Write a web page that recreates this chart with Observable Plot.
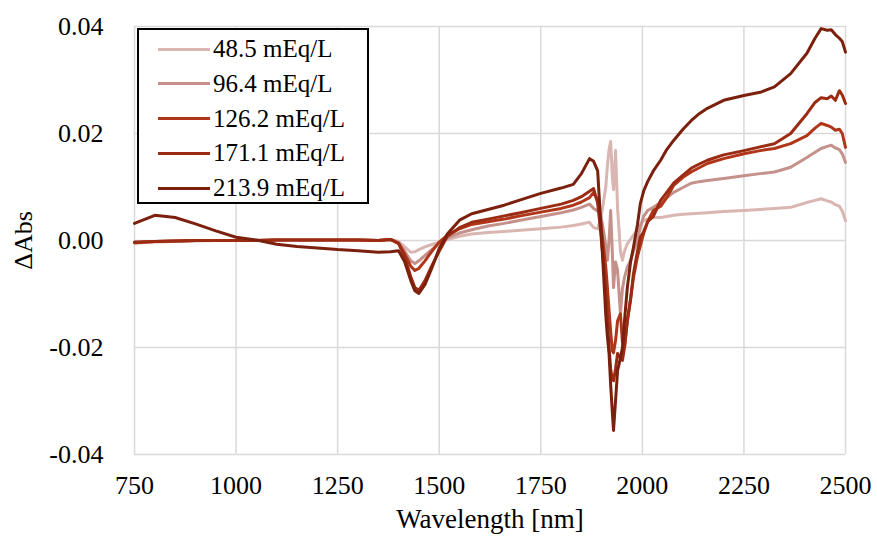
<!DOCTYPE html>
<html>
<head>
<meta charset="utf-8">
<script src="https://cdn.jsdelivr.net/npm/d3@7"></script>
<script src="https://cdn.jsdelivr.net/npm/@observablehq/plot@0.6"></script>
<style>
  html, body { margin: 0; padding: 0; background: #fff; }
  #wrap { position: relative; width: 877px; height: 538px; }
  #legend {
    position: absolute; left: 137px; top: 28px; width: 228px; height: 172px;
    border: 2px solid #000; background: #fff; box-sizing: content-box;
    font-family: "Times New Roman", "Liberation Serif", Tinos, "DejaVu Serif", serif; font-size: 25px; color: #000;
  }
  .row { position: absolute; left: 0; height: 34px; display: flex; align-items: center; white-space: nowrap; }
  .sw { width: 52px; height: 3px; margin-left: 19px; margin-right: 3px; }
  svg text { font-family: "Times New Roman", "Liberation Serif", Tinos, "DejaVu Serif", serif; }
</style>
</head>
<body>
<div id="wrap"><div id="legend"></div></div>
<script>
const seriesNames = ["48.5 mEq/L", "96.4 mEq/L", "126.2 mEq/L", "171.1 mEq/L", "213.9 mEq/L"];
const seriesColors = ["#d9b6b1", "#c4918b", "#b0361a", "#9b2b12", "#7b200d"];

const wavelength = [750, 800, 850, 900, 950, 1000, 1050, 1100, 1150, 1200, 1250, 1300, 1350, 1380, 1400, 1415, 1430, 1440, 1450, 1465, 1480, 1500, 1520, 1550, 1580, 1620, 1660, 1700, 1750, 1800, 1830, 1850, 1870, 1880, 1890, 1897, 1904, 1910, 1914, 1918, 1922, 1926, 1929, 1934, 1939, 1946, 1951, 1956, 1963, 1971, 1978, 1988, 1995, 2003, 2013, 2027, 2045, 2060, 2077, 2100, 2120, 2140, 2160, 2200, 2250, 2290, 2325, 2365, 2405, 2425, 2440, 2455, 2465, 2475, 2485, 2492, 2500];

const abs48_5 = [-0.0005, -0.0003, -0.0002, -0.0001, 0, 0, 0, 0.0001, 0.0001, 0.0001, 0.0001, 0.0001, 0, 0.0002, -0.0002, -0.0012, -0.0022, -0.0021, -0.0017, -0.0012, -0.0008, -0.0003, 0.0002, 0.0008, 0.0012, 0.0015, 0.0017, 0.0019, 0.0022, 0.0025, 0.0028, 0.0031, 0.0034, 0.0024, 0.0022, 0.004, 0.007, 0.01, 0.014, 0.017, 0.0185, 0.012, 0.0095, 0.0168, 0.006, -0.002, -0.0037, -0.002, -0.0006, 0.0002, 0.001, 0.002, 0.003, 0.0037, 0.004, 0.0043, 0.0043, 0.0045, 0.0047, 0.0049, 0.005, 0.0051, 0.0052, 0.0054, 0.0056, 0.0058, 0.006, 0.0062, 0.0071, 0.0075, 0.0078, 0.0074, 0.0072, 0.0067, 0.0064, 0.0055, 0.0037];

const abs96_4 = [-0.0004, -0.0002, -0.0001, 0, 0, 0, 0, 0.0001, 0.0001, 0.0001, 0.0001, 0.0001, 0, 0.0002, -0.0004, -0.002, -0.0038, -0.0043, -0.0038, -0.0028, -0.0018, -0.0005, 0.0005, 0.0014, 0.002, 0.0027, 0.0032, 0.0038, 0.0045, 0.0052, 0.0057, 0.0062, 0.0068, 0.006, 0.0055, 0.005, 0.002, -0.001, -0.0037, 0, 0.0056, -0.002, -0.0088, -0.004, -0.0056, -0.0137, -0.009, -0.0069, -0.005, -0.0037, -0.002, 0, 0.0025, 0.0045, 0.0056, 0.0062, 0.0071, 0.008, 0.009, 0.0099, 0.0107, 0.011, 0.0112, 0.0116, 0.0121, 0.0125, 0.0128, 0.0137, 0.0155, 0.0165, 0.0172, 0.0176, 0.0178, 0.0173, 0.017, 0.0162, 0.0146];

const abs126_2 = [-0.0004, -0.0002, -0.0001, 0, 0, 0, 0, 0.0001, 0.0001, 0.0001, 0.0001, 0.0001, 0, 0.0002, -0.0005, -0.0025, -0.0048, -0.0056, -0.0052, -0.0038, -0.0022, -0.0003, 0.001, 0.0022, 0.003, 0.0035, 0.004, 0.0046, 0.0053, 0.006, 0.0066, 0.0072, 0.008, 0.009, 0.0075, 0.0037, -0.001, -0.005, -0.0088, -0.013, -0.017, -0.0206, -0.021, -0.0187, -0.015, -0.0137, -0.019, -0.02, -0.015, -0.011, -0.007, -0.003, -0.001, 0.0013, 0.0035, 0.0056, 0.0064, 0.008, 0.0103, 0.0118, 0.0128, 0.0136, 0.0144, 0.0153, 0.0162, 0.0168, 0.0172, 0.0181, 0.0196, 0.021, 0.0219, 0.0215, 0.0212, 0.0206, 0.0208, 0.02, 0.0174];

const abs171_1 = [-0.0003, -0.0002, -0.0001, 0, 0, 0, 0, 0.0001, 0.0001, 0.0001, 0.0001, 0.0001, 0, 0.0002, -0.0006, -0.003, -0.0068, -0.0088, -0.0093, -0.0075, -0.005, -0.002, 0.0008, 0.0024, 0.0034, 0.004, 0.0046, 0.0052, 0.006, 0.0068, 0.0075, 0.0082, 0.0092, 0.0097, 0.007, 0.0019, -0.004, -0.0095, -0.015, -0.02, -0.024, -0.026, -0.0262, -0.024, -0.0211, -0.022, -0.0224, -0.02, -0.015, -0.011, -0.0062, -0.002, 0.0006, 0.0016, 0.0035, 0.0045, 0.0075, 0.009, 0.0107, 0.0122, 0.0135, 0.0143, 0.015, 0.016, 0.0168, 0.0175, 0.0181, 0.02, 0.0237, 0.0258, 0.0267, 0.0265, 0.027, 0.0262, 0.028, 0.0272, 0.0256];

const abs213_9 = [0.0032, 0.0047, 0.0043, 0.0031, 0.0018, 0.0006, 0.0001, -0.0007, -0.0011, -0.0014, -0.0017, -0.0019, -0.0022, -0.0021, -0.0019, -0.004, -0.0075, -0.0094, -0.0099, -0.0082, -0.0055, -0.0015, 0.0012, 0.0038, 0.005, 0.0058, 0.0066, 0.0076, 0.0088, 0.0098, 0.0105, 0.0125, 0.0153, 0.0148, 0.013, 0.004, -0.0056, -0.014, -0.018, -0.0211, -0.027, -0.032, -0.0355, -0.03, -0.0243, -0.022, -0.02, -0.015, -0.0088, -0.004, -0.0013, 0.003, 0.0069, 0.0092, 0.011, 0.013, 0.015, 0.017, 0.0187, 0.0208, 0.0224, 0.0237, 0.0247, 0.0262, 0.0271, 0.0277, 0.0287, 0.0312, 0.035, 0.0378, 0.0396, 0.0393, 0.0394, 0.0385, 0.0378, 0.0372, 0.0352];

const xTicks = [750, 1000, 1250, 1500, 1750, 2000, 2250, 2500];
const yTicks = [-0.04, -0.02, 0, 0.02, 0.04];

const seriesValues = [abs48_5, abs96_4, abs126_2, abs171_1, abs213_9];
const rows = [];
seriesNames.forEach((name, i) => {
  wavelength.forEach((w, j) => rows.push({wl: w, v: seriesValues[i][j], s: name}));
});

const chart = Plot.plot({
  width: 877,
  height: 538,
  marginLeft: 134,
  marginRight: 32,
  marginTop: 26,
  marginBottom: 84,
  style: {fontFamily: "'Times New Roman', 'Liberation Serif', Tinos, 'DejaVu Serif', serif", fontSize: "26px", color: "#000", background: "#fff"},
  x: {domain: [750, 2500]},
  y: {domain: [-0.04, 0.04]},
  color: {domain: seriesNames, range: seriesColors},
  marks: [
    Plot.gridX(xTicks, {stroke: "#d9d9d9", strokeOpacity: 1, strokeWidth: 1.5}),
    Plot.gridY(yTicks, {stroke: "#d9d9d9", strokeOpacity: 1, strokeWidth: 1.5}),
    Plot.axisX(xTicks, {tickSize: 0, tickPadding: 21, fontSize: 26, label: null, tickFormat: d => String(d)}),
    Plot.axisX({label: "Wavelength [nm]", labelAnchor: "center", labelArrow: "none", labelOffset: 73, fontSize: 27, ticks: [], tickSize: 0}),
    Plot.axisY(yTicks, {tickSize: 0, tickPadding: 31, fontSize: 26, label: "ΔAbs", labelAnchor: "center", labelArrow: "none", labelOffset: 121, tickFormat: d => d.toFixed(2)}),
    Plot.line(rows, {x: "wl", y: "v", z: "s", stroke: "s", strokeWidth: 3, strokeLinejoin: "round", curve: "linear"})
  ]
});
document.getElementById("wrap").prepend(chart);

const legend = document.getElementById("legend");
seriesNames.forEach((name, i) => {
  const row = document.createElement("div");
  row.className = "row";
  row.style.top = (2 + i * 34.8) + "px";
  const sw = document.createElement("div");
  sw.className = "sw";
  sw.style.background = seriesColors[i];
  const t = document.createElement("span");
  t.textContent = name;
  row.appendChild(sw);
  row.appendChild(t);
  legend.appendChild(row);
});
</script>
</body>
</html>
